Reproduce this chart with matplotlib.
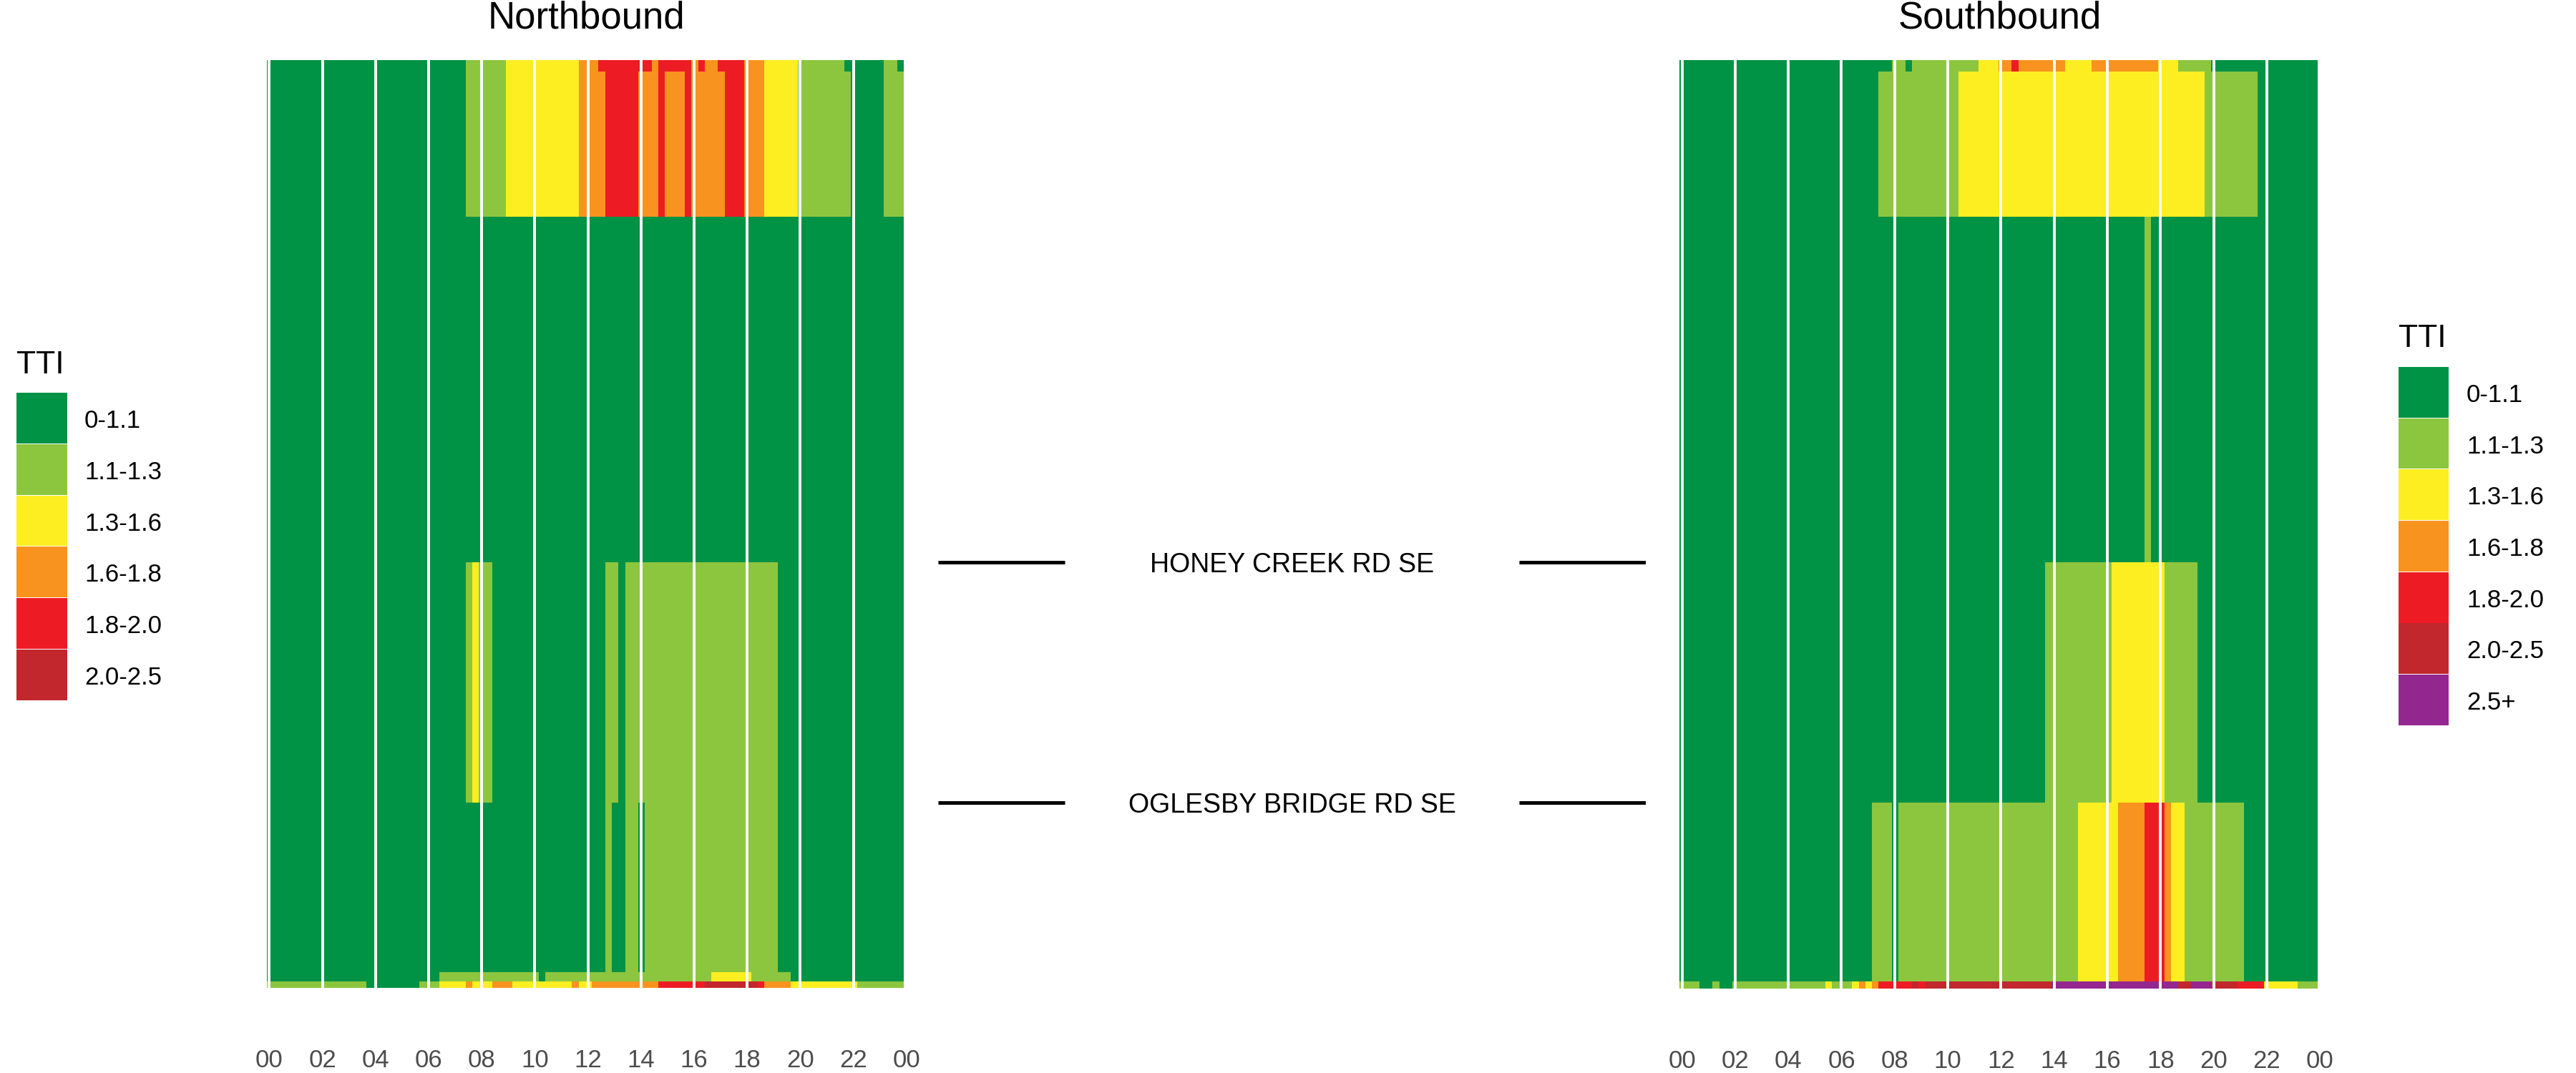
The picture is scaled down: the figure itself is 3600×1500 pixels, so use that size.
import numpy as np
import matplotlib
matplotlib.use('Agg')
import matplotlib.pyplot as plt
from matplotlib.colors import ListedColormap, BoundaryNorm
from matplotlib.patches import Rectangle

plt.rcParams['font.family'] = ['Liberation Sans', 'DejaVu Sans']

# TTI classes
tti_labels = ['0-1.1', '1.1-1.3', '1.3-1.6', '1.6-1.8', '1.8-2.0', '2.0-2.5', '2.5+']
tti_colors = ['#009245', '#8CC63F', '#FCEE21', '#F7931E', '#ED1C24', '#C1272D', '#93278F']

# segment lengths (miles), top of the chart first
nb_segment_miles = [0.08, 1.015, 2.415, 1.68, 1.185, 0.065, 0.045]
sb_segment_miles = [0.08, 1.015, 2.415, 1.68, 1.25, 0.05]

# TTI class per 15 min bin, one group of 4 per hour (00..23)
nb_tti = [
    "0000 0000 0000 0000 0000 0000 0000 0011 1111 2222 2222 2223 3344 4444 4434 4444 3433 4444 3332 2222 1111 1110 0000 0110",
    "0000 0000 0000 0000 0000 0000 0000 0011 1111 2222 2222 2223 3334 4444 3334 3334 3333 3444 3332 2222 1111 1111 0000 0111",
    "0000 0000 0000 0000 0000 0000 0000 0000 0000 0000 0000 0000 0000 0000 0000 0000 0000 0000 0000 0000 0000 0000 0000 0000",
    "0000 0000 0000 0000 0000 0000 0000 0012 1100 0000 0000 0000 0001 1011 1111 1111 1111 1111 1111 1000 0000 0000 0000 0000",
    "0000 0000 0000 0000 0000 0000 0000 0000 0000 0000 0000 0000 0001 0011 0111 1111 1111 1111 1111 1000 0000 0000 0000 0000",
    "0000 0000 0000 0000 0000 0000 0011 1111 1111 1111 1011 1111 1111 1111 1111 1111 1112 2222 2111 1110 0000 0000 0000 0000",
    "1111 1111 1111 1110 0000 0001 1122 2232 2233 3222 2222 2232 2333 3333 3334 4444 4455 5555 5543 3332 2222 2222 2111 1111",
]
sb_tti = [
    "0000 0000 0000 0000 0000 0000 0000 0000 1101 1111 1111 1222 3343 3333 3322 2233 3333 3333 2221 1111 0000 0000 0000 0000",
    "0000 0000 0000 0000 0000 0000 0000 0011 1111 1111 1122 2222 2222 2222 2222 2222 2222 2222 2222 2221 1111 1110 0000 0000",
    "0000 0000 0000 0000 0000 0000 0000 0000 0000 0000 0000 0000 0000 0000 0000 0000 0000 0010 0000 0000 0000 0000 0000 0000",
    "0000 0000 0000 0000 0000 0000 0000 0000 0000 0000 0000 0000 0000 0001 1111 1111 1222 2222 2111 1100 0000 0000 0000 0000",
    "0000 0000 0000 0000 0000 0000 0000 0111 0111 1111 1111 1111 1111 1111 1111 2222 2233 3344 4322 1111 1111 1000 0000 0000",
    "1110 0100 1111 1111 1111 1121 1123 2344 4445 4555 5555 5555 5555 5555 6666 6666 6666 6666 6665 5666 5555 4444 2222 2111",
]

cross_streets = ['HONEY CREEK RD SE', 'OGLESBY BRIDGE RD SE']
cross_street_mile = [3.51, 5.19]

hour_ticks = list(range(0, 25, 2))
hour_labels = ['%02d' % (h % 24) for h in hour_ticks]

cmap = ListedColormap(tti_colors)
norm = BoundaryNorm(np.arange(len(tti_colors) + 1) - 0.5, cmap.N)

W, H = 3600, 1500
fig = plt.figure(figsize=(36, 15), dpi=100)


def fx(px):
    return px / W


def fy(py):
    return 1 - py / H


def draw_panel(ax, rows, miles, title):
    grid = np.array([[int(c) for c in r.replace(' ', '')] for r in rows])
    t_edges = np.arange(grid.shape[1] + 1) / 4 - 0.1
    y_edges = np.concatenate([[0], np.cumsum(miles)])
    ax.pcolormesh(t_edges, y_edges, grid, cmap=cmap, norm=norm,
                  antialiased=False, edgecolors='none')
    for h in range(0, 24, 2):
        ax.axvline(h, color='white', lw=2.8)
    ax.set_xlim(-0.1, 24)
    ax.set_ylim(y_edges[-1], 0)
    ax.set_xticks(hour_ticks, hour_labels)
    ax.set_yticks([])
    ax.tick_params(axis='x', length=0, pad=61, labelsize=25, labelcolor='#4D4D4D')
    for s in ax.spines.values():
        s.set_visible(False)
    ax.set_title(title, fontsize=38, pad=32)


ax_nb = fig.add_axes([fx(372.7), fy(1381), fx(894.1), 1297 / H])
draw_panel(ax_nb, nb_tti, nb_segment_miles, 'Northbound')

ax_sb = fig.add_axes([fx(2346.8), fy(1382), fx(895.5), 1298 / H])
draw_panel(ax_sb, sb_tti, sb_segment_miles, 'Southbound')

# cross street labels between the panels
ax_mid = fig.add_axes([fx(1311), fy(1381), fx(989), 1297 / H])
ax_mid.set_xlim(0, 1)
ax_mid.set_ylim(sum(nb_segment_miles), 0)
ax_mid.axis('off')
for name, m in zip(cross_streets, cross_street_mile):
    ax_mid.plot([0, 0.179], [m, m], color='black', lw=3.6, solid_capstyle='butt')
    ax_mid.plot([0.821, 1], [m, m], color='black', lw=3.6, solid_capstyle='butt')
    ax_mid.text(0.5, m, name, ha='center', va='center_baseline', fontsize=27)


def draw_legend(x, title_base, key_top, step, key_w, label_x, n):
    fig.text(fx(x), fy(title_base), 'TTI', fontsize=32, ha='left', va='baseline')
    for i in range(n):
        top = key_top + i * step
        fig.add_artist(Rectangle((fx(x), fy(top + step - 1)), fx(key_w), (step - 1) / H,
                                 transform=fig.transFigure, facecolor=tti_colors[i],
                                 edgecolor='none'))
        fig.text(fx(label_x), fy(top + step / 2), tti_labels[i], fontsize=25,
                 ha='left', va='center_baseline')


draw_legend(23, 522, 549, 71.8, 71, 118, 6)
draw_legend(3352, 485, 513, 71.7, 70, 3447, 7)

fig.savefig('out.png', dpi=100)
